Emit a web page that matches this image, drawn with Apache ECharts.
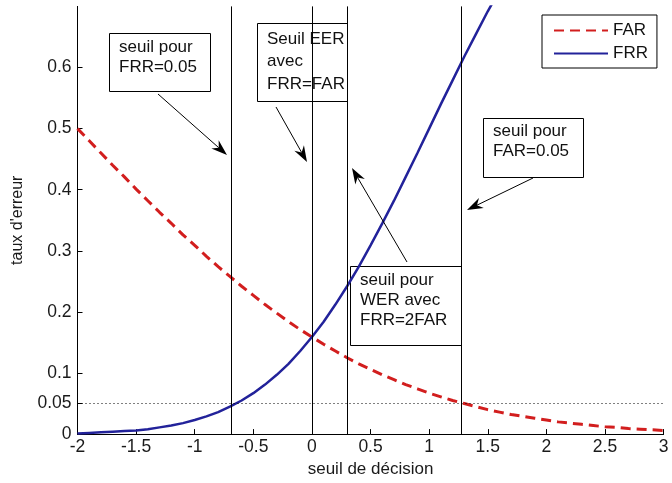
<!DOCTYPE html>
<html><head><meta charset="utf-8">
<script src="https://cdn.jsdelivr.net/npm/echarts@6/dist/echarts.min.js"></script>
<style>html,body{margin:0;padding:0;background:#fff}#c{width:672px;height:483px}</style>
</head><body><div id="c"></div>
<script>
const xValues = [-2,-1.9,-1.8,-1.7,-1.6,-1.5,-1.4,-1.3,-1.2,-1.1,-1,-0.9,-0.8,-0.7,-0.6,-0.5,-0.4,-0.3,-0.2,-0.1,0,0.1,0.2,0.3,0.4,0.5,0.6,0.7,0.8,0.9,1,1.1,1.2,1.3,1.4,1.5,1.6,1.7,1.8,1.9,2,2.1,2.2,2.3,2.4,2.5,2.6,2.7,2.8,2.9,3];
const farValues = [0.500,0.480,0.460,0.440,0.421,0.401,0.382,0.363,0.345,0.326,0.309,0.291,0.274,0.258,0.242,0.227,0.212,0.198,0.184,0.171,0.159,0.147,0.136,0.125,0.115,0.106,0.097,0.089,0.081,0.074,0.067,0.061,0.055,0.050,0.045,0.040,0.036,0.032,0.029,0.026,0.023,0.020,0.018,0.016,0.014,0.012,0.011,0.009,0.008,0.007,0.006];
const frrValues = [0.001,0.002,0.003,0.004,0.005,0.006,0.008,0.011,0.014,0.018,0.023,0.029,0.036,0.045,0.055,0.067,0.081,0.097,0.115,0.136,0.159,0.184,0.212,0.242,0.274,0.309,0.345,0.382,0.421,0.460,0.500,0.540,0.579,0.618,0.655,0.692,0.726];
const yTickValues = [0,0.05,0.1,0.2,0.3,0.4,0.5,0.6];
const thresholds = [-0.69, 0, 0.3, 1.27];
const dottedLevel = 0.05;
const seriesNames = ['FAR','FRR'];
const xName = 'seuil de décision';
const yName = "taux d'erreur";
const notes = [
  {text:'seuil pour\nFRR=0.05'},
  {text:'Seuil EER\navec\nFRR=FAR'},
  {text:'seuil pour\nFAR=0.05'},
  {text:'seuil pour\nWER avec\nFRR=2FAR'}
];

const FONT = '"Liberation Sans", Arial, sans-serif';
const chart = echarts.init(document.getElementById('c'), null, {renderer:'canvas'});

// annotation layout (pixels)
const boxLayout = [
  {x:109, y:33, w:101, h:58, tx:119, ty:37, lh:20},
  {x:257, y:23, w:90, h:78, tx:267, ty:28, lh:22.5},
  {x:483, y:118, w:100, h:59, tx:493, ty:121, lh:20.5},
  {x:350, y:266, w:111, h:79, tx:360, ty:270, lh:20}
];
const arrowLayout = [
  [158,94,227,155],
  [276,107,307,162],
  [533,178,467,210],
  [407,262,352,168]
];
function arrow(a){
  const [x1,y1,x2,y2]=a;
  const dx=x2-x1, dy=y2-y1, len=Math.hypot(dx,dy), ux=dx/len, uy=dy/len, px=-uy, py=ux;
  const L=16, W=5.5, N=11;
  return [
    {type:'line', z:20, silent:true, shape:{x1:x1,y1:y1,x2:x2-ux*N,y2:y2-uy*N}, style:{stroke:'#000',lineWidth:1}},
    {type:'polygon', z:20, silent:true, shape:{points:[[x2,y2],[x2-ux*L+px*W,y2-uy*L+py*W],[x2-ux*N,y2-uy*N],[x2-ux*L-px*W,y2-uy*L-py*W]]}, style:{fill:'#000'}}
  ];
}
const graphics = [];
notes.forEach((n,i)=>{
  const b = boxLayout[i];
  graphics.push({type:'rect', z:0, silent:true, shape:{x:b.x+0.5,y:b.y+0.5,width:b.w,height:b.h}, style:{fill:'#fff',stroke:'#000',lineWidth:1}});
  graphics.push({type:'text', z:1, silent:true, x:b.tx, y:b.ty, style:{text:n.text, font:'17px '+FONT, lineHeight:b.lh, fill:'#111', verticalAlign:'top', align:'left'}});
});
arrowLayout.forEach(a=>graphics.push(...arrow(a)));

const axisText = {color:'#1a1a1a', fontSize:17.5, fontFamily:FONT};
chart.setOption({
  animation:false,
  backgroundColor:'#fff',
  grid:{left:77.5, right:8.4, top:6.4, bottom:45.4, containLabel:false},
  legend:{
    data:seriesNames, orient:'vertical', left:542, top:15,
    padding:[7,9,6,11], itemGap:6, itemWidth:54, itemHeight:14,
    itemStyle:{opacity:0},
    backgroundColor:'#fff', borderColor:'#000', borderWidth:1, borderRadius:0,
    textStyle:{fontSize:17, fontFamily:FONT, color:'#111'}
  },
  xAxis:{
    type:'value', min:-2, max:3, interval:0.5,
    name:xName, nameLocation:'middle', nameGap:25,
    nameTextStyle:{fontSize:17, fontFamily:FONT, color:'#1a1a1a'},
    axisLine:{show:true, onZero:false, lineStyle:{color:'#000', width:1}},
    axisTick:{show:true, inside:true, length:5, lineStyle:{color:'#000'}},
    axisLabel:Object.assign({margin:4}, axisText),
    splitLine:{show:false}
  },
  yAxis:{
    type:'value', min:0, max:0.7,
    name:yName, nameLocation:'middle', nameGap:52,
    nameTextStyle:{fontSize:16, fontFamily:FONT, color:'#1a1a1a'},
    axisLine:{show:true, onZero:false, lineStyle:{color:'#000', width:1}},
    axisTick:{show:true, inside:true, length:5, lineStyle:{color:'#000'}, customValues:yTickValues},
    axisLabel:Object.assign({margin:6, customValues:yTickValues}, axisText),
    splitLine:{show:false}
  },
  graphic:graphics,
  series:[
    {name:'FAR', type:'line', symbol:'none', z:3, clip:true,
     data:xValues.map((x,i)=>[x, farValues[i]]),
     lineStyle:{color:'#d21e1e', width:3, type:[10,6]}, itemStyle:{color:'#d21e1e'}},
    {name:'FRR', type:'line', symbol:'none', z:4, clip:true,
     data:frrValues.map((v,i)=>[xValues[i], v]),
     lineStyle:{color:'#22229a', width:2.5, type:'solid'}, itemStyle:{color:'#22229a'}},
    {name:'seuils', type:'line', data:[], z:2,
     markLine:{silent:true, symbol:['none','none'], animation:false,
       label:{show:false},
       lineStyle:{color:'#000', width:1, type:'solid'},
       data:thresholds.map(v=>({xAxis:v})).concat([{yAxis:dottedLevel, lineStyle:{type:[1,3], color:'#000', width:1}}])
     }}
  ]
});
</script></body></html>
